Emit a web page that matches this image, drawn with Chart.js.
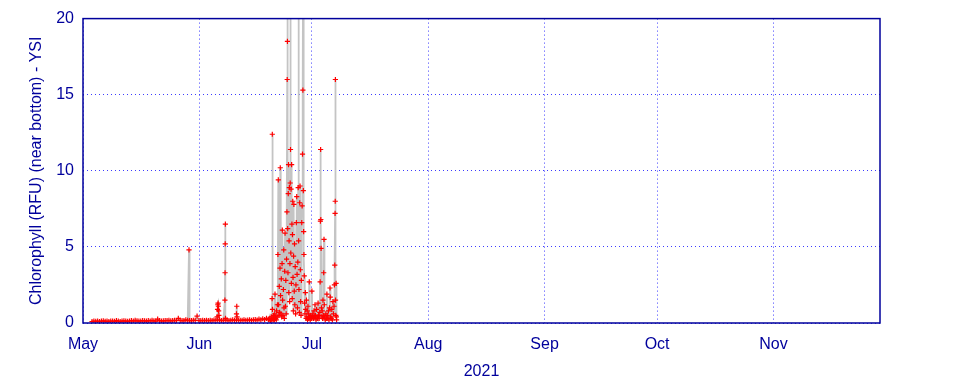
<!DOCTYPE html>
<html>
<head>
<meta charset="utf-8">
<script src="https://cdn.jsdelivr.net/npm/chart.js@4/dist/chart.umd.min.js"></script>
<style>
html,body{margin:0;padding:0;background:#fff;}
#wrap{width:960px;height:384px;}
</style>
</head>
<body>
<div id="wrap"><canvas id="c" width="960" height="384"></canvas></div>
<script>
// Time is expressed in days since 2021-05-01 00:00
const monthStarts = [0, 31, 61, 92, 123, 153, 184];
const monthLabels = ['May', 'Jun', 'Jul', 'Aug', 'Sep', 'Oct', 'Nov'];
const yearLabel = '2021';
const yTicks = [0, 5, 10, 15, 20];
const yTitle = 'Chlorophyll (RFU) (near bottom) - YSI';

// Quiet period: readings every 0.5 day starting day 2.4
const quietStart = 2.4;
const quietStep = 0.5;
const quietChl = [
  0.10,0.12,0.11,0.13,0.10,0.12,0.14,0.11,0.12,0.10,0.13,0.12,0.11,0.15,0.12,0.10,0.13,0.14,0.12,0.11,
  0.13,0.15,0.12,0.18,0.14,0.12,0.13,0.16,0.14,0.12,0.15,0.13,0.17,0.14,0.12,0.25,0.15,0.13,0.14,0.16,
  0.15,0.17,0.14,0.16,0.18,0.15,0.30,0.17,0.16,0.15,0.20,0.17,0.15,0.16,0.18,0.17,0.45,0.16,0.15,0.17,
  0.16,0.18,0.15,0.17,0.16,0.19,0.17,0.18,0.20,0.16,0.18,0.17,0.19,0.16,0.18,0.20,0.17,0.19,0.18,0.17,
  0.18,0.20,0.17,0.19,0.21,0.18,0.20,0.22,0.19,0.25,0.21,0.28,0.22,0.30,0.24
];

// Isolated events in late May / early June
const eventDays = [28.25, 35.75,35.85,35.92,36.0,36.08,36.15,36.22, 37.82,37.86,37.9,37.94,37.98, 40.9,40.98,41.05];
const eventChl  = [4.8,   0.4, 0.9, 1.2, 1.3, 1.1, 0.8, 0.5,      1.5, 3.3, 5.2, 6.5, 0.3,        0.6, 1.1, 0.4];

// Bloom period, late June to early July
const bloomDays = [
  49.6,49.8,50.0,50.15,50.3,50.4,50.45,50.5,50.6,50.7,50.8,50.9,51.0,51.1,51.17,51.25,51.35,51.5,51.6,51.7,51.8,51.95,
  52.05,52.12,52.2,52.3,52.4,52.5,52.58,52.65,52.75,52.85,52.95,53.05,53.12,53.2,53.3,53.4,53.5,53.57,53.65,53.75,53.85,53.95,
  54.05,54.15,54.25,54.35,54.42,54.45,54.48,54.55,54.62,54.7,54.77,54.85,54.92,55.0,55.08,55.15,55.22,55.25,55.3,55.38,55.45,
  55.52,55.6,55.68,55.75,55.82,55.9,55.97,56.05,56.12,56.2,56.3,56.37,56.45,56.55,56.65,56.75,56.85,56.96,57.05,57.15,57.25,
  57.35,57.42,57.47,57.55,57.65,57.75,57.84,57.92,58.0,58.1,58.2,58.3,58.4,58.5,58.6,58.66,58.72,58.8,58.88,58.96,59.05,
  59.15,59.25,59.35,59.45,59.55,59.65,59.75,59.85,59.95,60.05,60.15,60.3,60.4,60.55,60.7,60.85,61.0,61.1,61.25,61.4,61.55,
  61.7,61.83,61.95,62.1,62.25,62.4,62.55,62.65,62.8,62.95,63.1,63.2,63.27,63.33,63.38,63.45,63.55,63.65,63.75,63.85,63.95,
  64.05,64.15,64.23,64.3,64.4,64.55,64.7,64.85,65.0,65.1,65.25,65.4,65.55,65.7,65.83,65.9,66.0,66.15,66.3,66.45,66.6,66.75,
  66.9,67.0,67.1,67.18,67.22,67.26,67.3,67.38,67.45,67.52,67.58
];
const bloomChl = [
  0.2,0.3,0.15,0.4,0.2,1.6,12.4,0.9,0.3,0.2,0.5,0.3,0.2,0.6,1.9,0.4,0.3,0.2,0.8,0.4,1.2,4.5,
  9.4,1.2,0.5,2.4,0.7,3.6,10.2,1.8,0.6,2.9,0.4,3.9,6.1,1.5,0.5,2.2,4.8,1.0,0.3,3.4,5.9,1.1,
  2.8,0.6,4.2,7.3,16.0,24,18.5,6.2,3.3,8.5,10.4,2.0,5.4,8.9,1.4,3.9,9.2,23,11.4,4.6,8.8,
  2.6,10.4,6.5,1.6,5.8,8.0,3.0,0.8,4.4,7.8,2.1,5.2,1.2,3.7,0.6,2.5,6.6,8.3,3.2,1.0,4.0,
  8.9,26,5.4,2.2,0.7,7.9,9.0,3.5,1.4,0.5,2.8,6.6,7.7,11.1,15.3,25,8.7,6.0,4.5,3.1,1.3,
  0.6,2.0,0.9,0.3,1.5,0.4,0.8,0.2,1.1,0.3,0.6,2.7,0.4,0.2,0.5,0.3,2.1,0.4,0.6,0.3,0.8,
  0.4,1.2,0.5,0.2,0.9,0.4,0.3,1.3,0.5,0.3,0.7,2.7,6.7,11.4,6.8,4.9,1.0,0.4,0.8,0.3,1.5,
  0.5,3.3,5.5,1.2,0.4,0.2,0.6,0.3,1.9,0.5,0.3,0.8,0.2,1.0,2.3,1.7,0.4,0.3,0.9,0.2,1.4,0.6,
  1.1,2.5,3.8,7.2,8.0,16.0,1.5,0.5,2.6,0.4,0.2
];

// Assemble points (chronological)
const points = [];
quietChl.forEach((v, i) => points.push({x: quietStart + i * quietStep, y: v}));
eventDays.forEach((d, i) => points.push({x: d, y: eventChl[i]}));
bloomDays.forEach((d, i) => points.push({x: d, y: bloomChl[i]}));
points.sort((a, b) => a.x - b.x);

const navy = '#00009c';
const gridBlue = '#3c3cff';
const FONT = "'Liberation Sans', Arial, sans-serif";

const framePlugin = {
  id: 'frame',
  afterDraw(chart) {
    const {ctx, chartArea: a} = chart;
    ctx.save();
    ctx.strokeStyle = navy;
    ctx.lineWidth = 1.5;
    ctx.strokeRect(a.left, a.top, a.right - a.left, a.bottom - a.top);
    ctx.restore();
  }
};
const bgPlugin = {
  id: 'bg',
  beforeDraw(chart) {
    const ctx = chart.ctx;
    ctx.save();
    ctx.fillStyle = '#fff';
    ctx.fillRect(0, 0, chart.width, chart.height);
    ctx.restore();
  }
};

new Chart(document.getElementById('c'), {
  type: 'line',
  data: {
    datasets: [{
      data: points,
      borderColor: '#c4c4c4',
      borderWidth: 1.8,
      pointStyle: 'cross',
      pointRadius: 2.6,
      pointBorderColor: '#ff0000',
      pointBackgroundColor: '#ff0000',
      pointBorderWidth: 1.2,
      tension: 0,
      fill: false
    }]
  },
  options: {
    responsive: false,
    animation: false,
    events: [],
    layout: {padding: {top: 18, right: 80, left: 0, bottom: 0}},
    plugins: {legend: {display: false}, tooltip: {enabled: false}},
    scales: {
      x: {
        type: 'linear',
        min: 0,
        max: 212.4,
        afterBuildTicks(scale) { scale.ticks = monthStarts.map(v => ({value: v})); },
        afterFit(scale) { scale.height = 61; },
        ticks: {
          autoSkip: false,
          maxRotation: 0,
          padding: 12,
          color: navy,
          font: {family: FONT, size: 16},
          callback: (v) => monthLabels[monthStarts.indexOf(v)] ?? ''
        },
        grid: {color: gridBlue, lineWidth: 1, drawTicks: false},
        border: {display: false, dash: [1, 3]},
        title: {display: true, text: yearLabel, color: navy, font: {family: FONT, size: 16}, padding: {top: 0, bottom: 3}}
      },
      y: {
        type: 'linear',
        min: 0,
        max: 20,
        afterBuildTicks(scale) { scale.ticks = yTicks.map(v => ({value: v})); },
        afterFit(scale) { scale.width = 83; },
        ticks: {
          padding: 9,
          color: navy,
          font: {family: FONT, size: 16}
        },
        grid: {color: gridBlue, lineWidth: 1, drawTicks: false},
        border: {display: false, dash: [1, 3]},
        title: {display: true, text: yTitle, color: navy, font: {family: FONT, size: 16}, padding: {top: 27, bottom: 0}}
      }
    }
  },
  plugins: [bgPlugin, framePlugin]
});
</script>
</body>
</html>
